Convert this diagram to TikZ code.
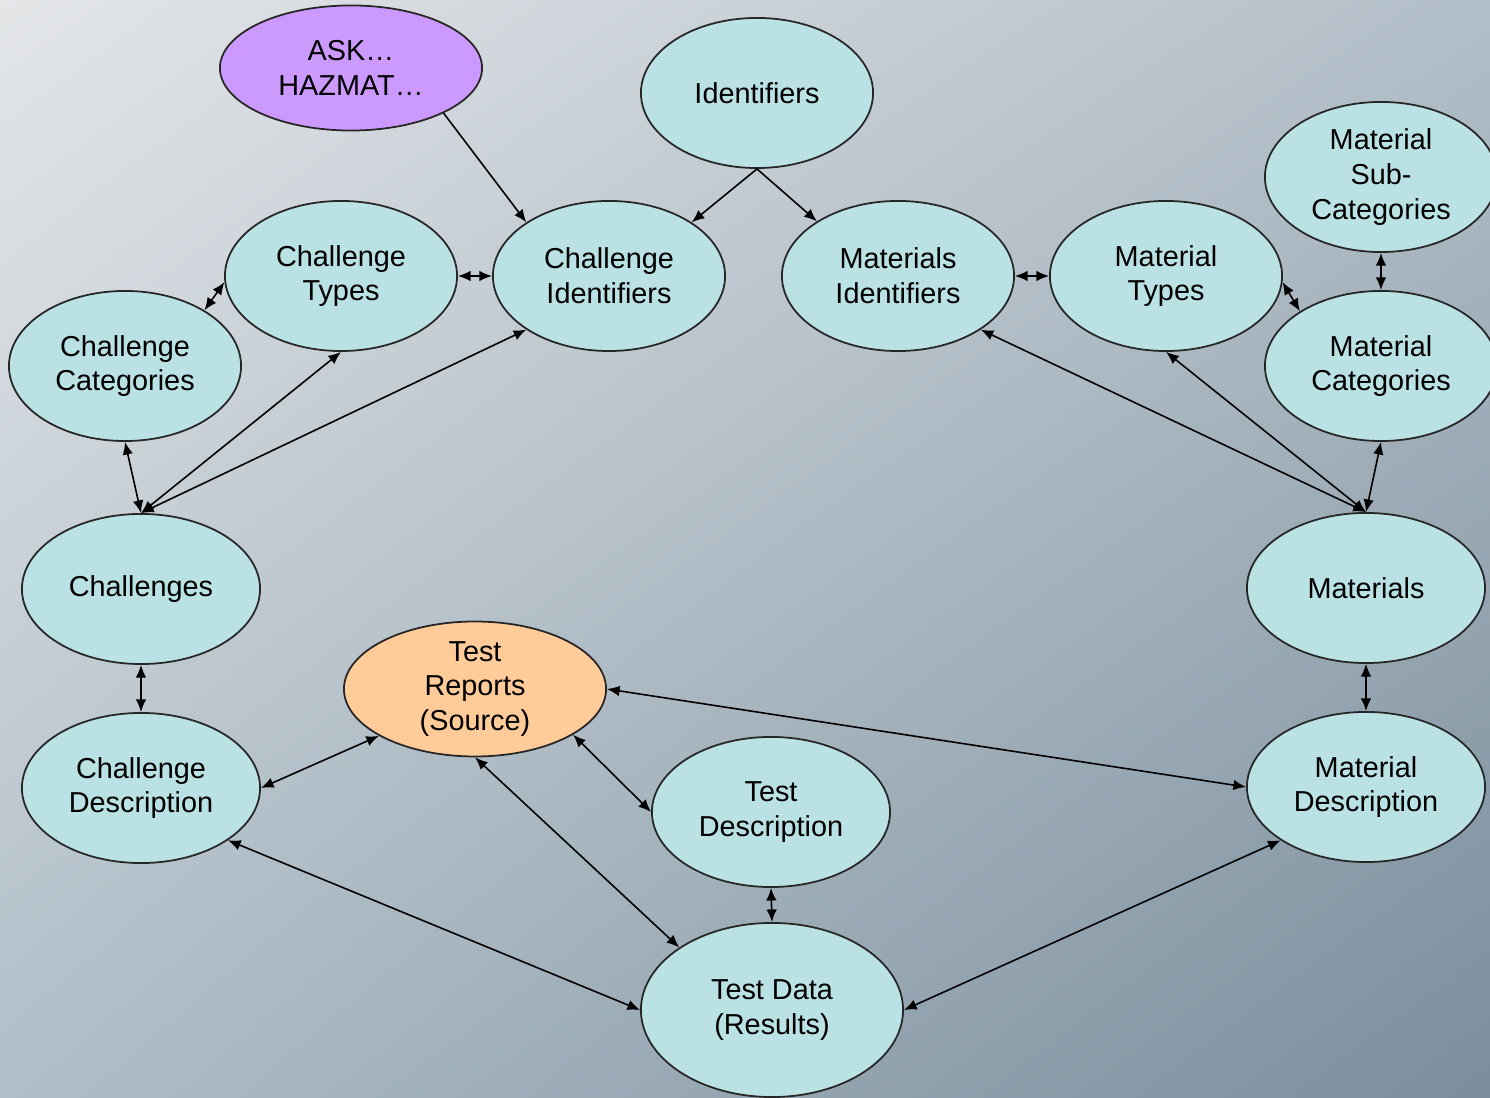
\documentclass[tikz,border=0pt]{standalone}
\usepackage{fontspec}
\setmainfont{Liberation Sans}
\usepackage{xcolor}
\usetikzlibrary{shapes.geometric,arrows.meta,shadings}
\definecolor{nodeteal}{RGB}{186,225,227}
\definecolor{askpurple}{RGB}{204,153,255}
\definecolor{reportorange}{RGB}{255,204,153}
\definecolor{bgtl}{RGB}{228,230,232}
\definecolor{bgtr}{RGB}{178,190,200}
\definecolor{bgbl}{RGB}{176,190,200}
\definecolor{bgbr}{RGB}{122,142,156}

\begin{document}
\begin{tikzpicture}[x=0.01cm, y=-0.01cm,
	main/.style = {draw=black!85, ellipse, fill=nodeteal, line width=0.5pt, inner sep=0pt,
		minimum width=2.32cm, minimum height=1.5cm, align=center,
		font=\fontsize{8.2}{9.9}\selectfont},
	wide/.style = {main, minimum width=2.38cm},
	flat/.style = {main, minimum width=2.62cm, minimum height=1.25cm},
	>={Latex[length=3.6pt,width=3pt]}, line width=0.45pt]
	\useasboundingbox (0,0) rectangle (1490,1098);
	\clip (0,0) rectangle (1490,1098);
	\shade[upper left=bgtl, upper right=bgtr, lower left=bgbl, lower right=bgbr]
		(0,0) rectangle (1490,1098);
	% top row
	\node[flat, fill=askpurple] (ask) at (351,68) {ASK\ldots\\HAZMAT\ldots};
	\node[main] (ident) at (757,93) {Identifiers};
	\node[main] (msub) at (1381,177) {Material\\Sub-\\Categories};
	% identifiers row
	\node[main] (ctypes) at (341,276) {Challenge\\Types};
	\node[main] (chid) at (609,276) {Challenge\\Identifiers};
	\node[main] (mid) at (898,276) {Materials\\Identifiers};
	\node[main] (mtypes) at (1166,276) {Material\\Types};
	\node[main] (ccat) at (125,366) {Challenge\\Categories};
	\node[main] (mcat) at (1381,366) {Material\\Categories};
	% middle
	\node[wide] (chall) at (141,589) {Challenges};
	\node[wide] (mat) at (1366,588) {Materials};
	\node[flat, fill=reportorange, minimum height=1.26cm] (rep) at (475,689) {Test\\Reports\\(Source)};
	% bottom
	\node[wide] (cdesc) at (141,788) {Challenge\\Description};
	\node[wide] (tdesc) at (771,812) {Test\\Description};
	\node[wide] (mdesc) at (1366,787) {Material\\Description};
	\node[flat, minimum height=1.74cm] (tdata) at (772,1010) {Test Data\\(Results)};

	\draw[->] (ask.-26) -- (chid.147);
	\draw[->] (ident.south) -- (chid.33);
	\draw[->] (ident.south) -- (mid.146);
	\draw[<->] (ctypes.east) -- (chid.west);
	\draw[<->] (ctypes.183) -- (ccat.35);
	\draw[<->] (ccat.south) -- (chall.north);
	\draw[<->] (chall.north) -- (ctypes.south);
	\draw[<->] (chall.north) -- (chid.213);
	\draw[<->] (mid.east) -- (mtypes.west);
	\draw[<->] (mtypes.-3) -- (mcat.146);
	\draw[<->] (msub.south) -- (mcat.north);
	\draw[<->] (mat.north) -- (mid.-33);
	\draw[<->] (mat.north) -- (mtypes.south);
	\draw[<->] (mat.north) -- (mcat.south);
	\draw[<->] (chall.south) -- (cdesc.north);
	\draw[<->] (mat.south) -- (mdesc.north);
	\draw[<->] (cdesc.east) -- (rep.206);
	\draw[<->] (cdesc.-31) -- (tdata.west);
	\draw[<->] (rep.south) -- (tdata.146);
	\draw[<->] (rep.-25) -- (tdesc.west);
	\draw[<->] (rep.east) -- (mdesc.west);
	\draw[<->] (tdesc.south) -- (tdata.north);
	\draw[<->] (tdata.east) -- (mdesc.212);
\end{tikzpicture}
\end{document}
